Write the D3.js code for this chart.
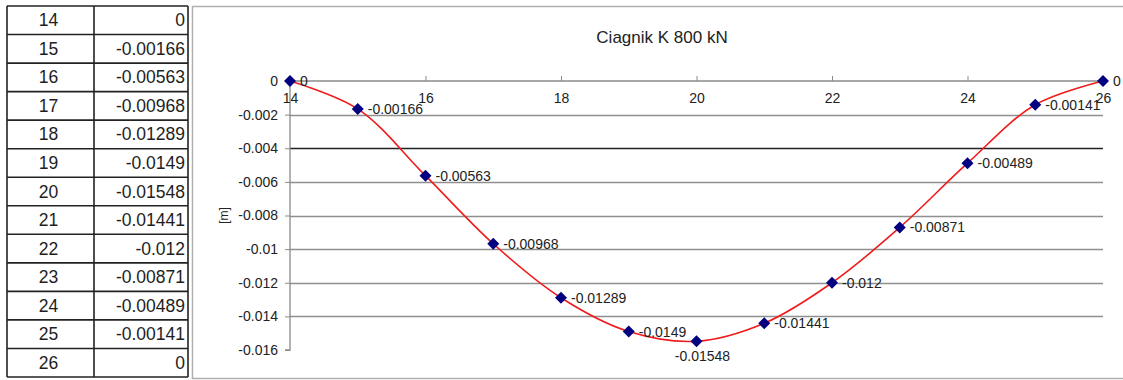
<!DOCTYPE html>
<html>
<head>
<meta charset="utf-8">
<script src="https://cdn.jsdelivr.net/npm/d3@7"></script>
<style>
  html, body { margin: 0; padding: 0; background: #fff; }
  svg { display: block; font-family: Arial, "Liberation Sans", sans-serif; }
</style>
</head>
<body>
<svg id="chart" width="1123" height="380"></svg>
<script>
// Deflection of the span under the K 800 kN vehicle
const stations = [14, 15, 16, 17, 18, 19, 20, 21, 22, 23, 24, 25, 26];
const deflection = [0, -0.00166, -0.00563, -0.00968, -0.01289, -0.0149, -0.01548, -0.01441, -0.012, -0.00871, -0.00489, -0.00141, 0];
const tableText = ["0", "-0.00166", "-0.00563", "-0.00968", "-0.01289", "-0.0149", "-0.01548", "-0.01441", "-0.012", "-0.00871", "-0.00489", "-0.00141", "0"];
const xTicks = [14, 16, 18, 20, 22, 24, 26];
const yTicks = [0, -0.002, -0.004, -0.006, -0.008, -0.01, -0.012, -0.014, -0.016];
const titleText = "Ciagnik K 800 kN";
const yTitle = "[m]";
// labels placed below their marker instead of to the right
const labelBelow = [20];

const svg = d3.select("#chart");

// ---------- data table on the left ----------
const tbl = svg.append("g");
const tTop = 6, tBottom = 377, tLeft = 7, tMid = 94, tRight = 188;
const rowY = d3.scaleBand().domain(d3.range(stations.length)).range([tTop, tBottom]);

tbl.selectAll("line.row")
  .data(d3.range(stations.length + 1))
  .join("line")
  .attr("x1", tLeft).attr("x2", tRight)
  .attr("y1", i => tTop + i * rowY.step())
  .attr("y2", i => tTop + i * rowY.step())
  .attr("stroke", "#222").attr("stroke-width", 1.6);
[tLeft, tMid, tRight].forEach(x => {
  tbl.append("line").attr("x1", x).attr("x2", x).attr("y1", tTop).attr("y2", tBottom)
    .attr("stroke", "#222").attr("stroke-width", 1.6);
});
tbl.selectAll("text.st")
  .data(stations)
  .join("text")
  .attr("x", (tLeft + tMid) / 2 - 2)
  .attr("y", (d, i) => rowY(i) + rowY.bandwidth() / 2 + 6)
  .attr("text-anchor", "middle")
  .attr("font-size", 17.5).attr("fill", "#1e1e1e")
  .text(d => d);
tbl.selectAll("text.val")
  .data(tableText)
  .join("text")
  .attr("x", tRight - 3)
  .attr("y", (d, i) => rowY(i) + rowY.bandwidth() / 2 + 6)
  .attr("text-anchor", "end")
  .attr("font-size", 17.5).attr("fill", "#1e1e1e")
  .text(d => d);

// ---------- chart frame ----------
svg.append("rect")
  .attr("x", 192.5).attr("y", 6.5).attr("width", 940).attr("height", 372)
  .attr("fill", "#fff").attr("stroke", "#b0b0b0").attr("stroke-width", 1.5);

svg.append("text")
  .attr("x", 662).attr("y", 43)
  .attr("text-anchor", "middle")
  .attr("font-size", 17).attr("fill", "#222")
  .text(titleText);

// ---------- scales ----------
const x = d3.scaleLinear().domain([14, 26]).range([290, 1103]);
const y = d3.scaleLinear().domain([0, -0.016]).range([81, 350]);

// horizontal gridlines
svg.append("g").selectAll("line")
  .data(yTicks.filter(v => v !== 0 && v !== -0.016))
  .join("line")
  .attr("x1", x(14)).attr("x2", x(26))
  .attr("y1", d => Math.round(y(d)) + 0.5).attr("y2", d => Math.round(y(d)) + 0.5)
  .attr("stroke", d => d === -0.004 ? "#222" : "#8f8f8f")
  .attr("stroke-width", 1.5);

// y axis
const yAxis = d3.axisLeft(y).tickValues(yTicks).tickSize(5).tickFormat(d => d === 0 ? "0" : String(d));
const gy = svg.append("g").attr("transform", `translate(${x(14)},0)`).call(yAxis);
gy.select(".domain").attr("stroke", "#8a8a8a").attr("stroke-width", 1.3).attr("d", `M-5,${y(-0.016)}H0V${y(0)}`);
gy.selectAll(".tick line").attr("stroke", "#8a8a8a");
gy.selectAll(".tick text").attr("font-size", 14).attr("fill", "#222").attr("x", -12)
  .attr("font-family", "Arial, 'Liberation Sans', sans-serif");

// x axis sits on the zero line, ticks pointing up
const xAxis = d3.axisTop(x).tickValues(xTicks).tickSize(5).tickFormat(d3.format("d"));
const gx = svg.append("g").attr("transform", `translate(0,${y(0)})`).call(xAxis);
gx.select(".domain").attr("stroke", "#8a8a8a").attr("stroke-width", 1.3).attr("d", `M${x(14)},0H${x(26)}`);
gx.selectAll(".tick line").attr("stroke", "#8a8a8a");
gx.selectAll(".tick text").attr("font-size", 14).attr("fill", "#222")
  .attr("y", 22).attr("font-family", "Arial, 'Liberation Sans', sans-serif");

// y axis title
svg.append("text")
  .attr("transform", `translate(228,${y(-0.008)}) rotate(-90)`)
  .attr("text-anchor", "middle")
  .attr("font-size", 12).attr("fill", "#222")
  .text(yTitle);

// ---------- series ----------
const pts = stations.map((s, i) => ({ s, v: deflection[i], t: tableText[i] }));

svg.append("path")
  .datum(pts)
  .attr("fill", "none")
  .attr("stroke", "#ee1c1c")
  .attr("stroke-width", 1.6)
  .attr("d", d3.line().x(d => x(d.s)).y(d => y(d.v)).curve(d3.curveCatmullRom.alpha(0.5)));

const r = 6;
svg.append("g").selectAll("path")
  .data(pts)
  .join("path")
  .attr("d", d => {
    const cx = x(d.s), cy = y(d.v);
    return `M${cx},${cy - r}L${cx + r},${cy}L${cx},${cy + r}L${cx - r},${cy}Z`;
  })
  .attr("fill", "#000080");

svg.append("g").selectAll("text")
  .data(pts)
  .join("text")
  .attr("x", d => labelBelow.includes(d.s) ? x(d.s) + 6 : x(d.s) + 10)
  .attr("y", d => labelBelow.includes(d.s) ? y(d.v) + 20 : y(d.v) + 5)
  .attr("text-anchor", d => labelBelow.includes(d.s) ? "middle" : "start")
  .attr("font-size", 14).attr("fill", "#222")
  .text(d => d.t);
</script>
</body>
</html>
